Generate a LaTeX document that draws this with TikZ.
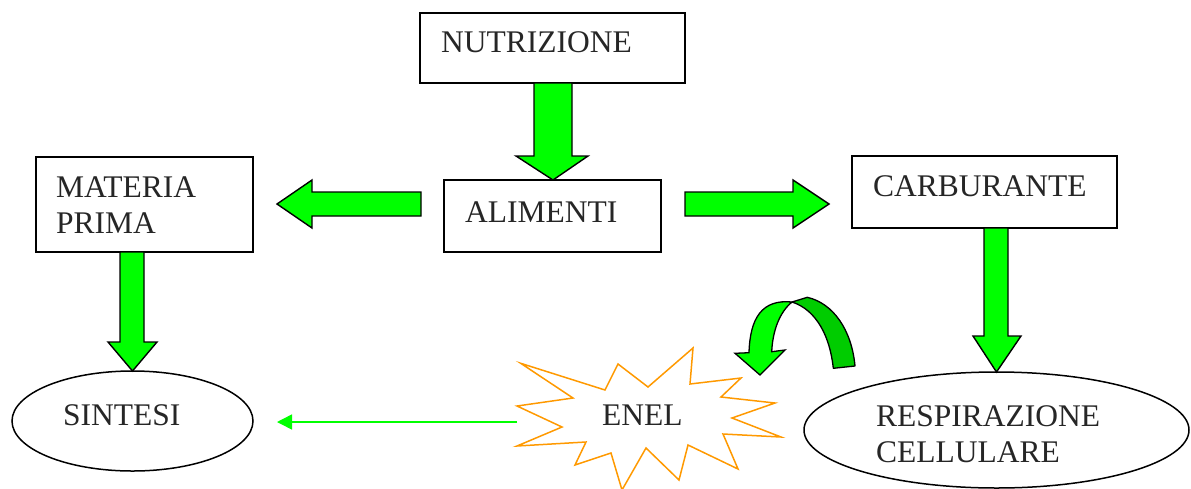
\documentclass[tikz,border=0pt]{standalone}
\usepackage{fontspec}
\setmainfont{Liberation Serif}
\usetikzlibrary{shapes.geometric,arrows.meta}
\definecolor{lgreen}{RGB}{0,255,0}
\definecolor{dgreen}{RGB}{0,204,0}
\definecolor{starorange}{RGB}{255,153,0}
\definecolor{txt}{RGB}{38,38,38}
\begin{document}
\begin{tikzpicture}[x=1pt,y=-1pt,
  box/.style={draw=black,line width=1.5pt,fill=white,inner sep=0pt},
  oval/.style={draw=black,line width=1.5pt,ellipse,inner sep=0pt},
  lbl/.style={anchor=base west,inner sep=0pt,text=txt,font=\fontsize{31.5}{36}\selectfont},
  barrow/.style={draw=black,line width=1.4pt,fill=lgreen,line join=miter},
  thinarrow/.style={draw=lgreen,line width=1.5pt,-{Triangle[length=15pt,width=15pt]}}
]
\useasboundingbox (0,0) rectangle (1191,488);

% boxes
\node[box,minimum width=265pt,minimum height=70pt] (nutr) at (552.5,48) {};
\node[box,minimum width=217pt,minimum height=72pt] (alim) at (552.5,216) {};
\node[box,minimum width=217pt,minimum height=95pt] (mat) at (144.5,204.5) {};
\node[box,minimum width=265pt,minimum height=72pt] (carb) at (984.5,192) {};
\node[oval,minimum width=241pt,minimum height=100pt] (sint) at (132.5,421) {};
\node[oval,minimum width=385pt,minimum height=116pt] (resp) at (996.5,430) {};

% labels
\node[lbl] (tnutr) at (441,52) {NUTRIZIONE};
\node[lbl] (talim) at (465,222) {ALIMENTI};
\node[lbl] (tmat1) at (56,197) {MATERIA};
\node[lbl] (tmat2) at (56,233) {PRIMA};
\node[lbl] (tcarb) at (873,196) {CARBURANTE};
\node[lbl] (tsint) at (63,425) {SINTESI};
\node[lbl] (tresp1) at (876,426) {RESPIRAZIONE};
\node[lbl] (tresp2) at (876,462) {CELLULARE};

% block arrows
% NUTRIZIONE -> ALIMENTI
\draw[barrow] (534,83) -- (572,83) -- (572,156) -- (588,156) -- (553,180) -- (516,156) -- (534,156) -- cycle;
% ALIMENTI -> MATERIA PRIMA
\draw[barrow] (421,192) -- (312,192) -- (312,180) -- (277,204) -- (312,228) -- (312,216) -- (421,216) -- cycle;
% ALIMENTI -> CARBURANTE
\draw[barrow] (685,192) -- (793,192) -- (793,180) -- (829,204) -- (793,228) -- (793,216) -- (685,216) -- cycle;
% MATERIA PRIMA -> SINTESI
\draw[barrow] (120,252) -- (144,252) -- (144,342) -- (157,342) -- (132.5,371) -- (108,342) -- (120,342) -- cycle;
% CARBURANTE -> RESPIRAZIONE
\draw[barrow] (984,228) -- (1008,228) -- (1008,336) -- (1021,336) -- (996.5,372) -- (973,336) -- (984,336) -- cycle;

% ENEL star
\draw[starorange,line width=1.5pt,line join=miter]
  (520.7,363.3) -- (605,390) -- (618,364) -- (648,387) -- (693,348) -- (690,384)
  -- (741,378) -- (721,397) -- (775,403) -- (732,418) -- (781,437) -- (723,434)
  -- (738,469) -- (688,445) -- (679,480) -- (646,448) -- (622,490) -- (611,453)
  -- (575,465) -- (586,442) -- (517,446) -- (562,427) -- (517,406) -- (573,398) -- cycle;
\node[lbl] (tenel) at (602,425) {ENEL};

% thin arrow ENEL -> SINTESI
\coordinate (enelL) at (517,422);
\coordinate (sintR) at (277,422);
\draw[thinarrow] (enelL) -- (sintR);

% curved arrow
\draw[draw=black,line width=1.3pt,fill=dgreen,line join=round]
  (792,302) -- (807.3,297.3)
  .. controls (833.3,303.3) and (851.7,330) .. (855,366)
  -- (833.3,368.3)
  .. controls (830,336.7) and (816.7,310) .. (792,302) -- cycle;
\draw[draw=black,line width=1.3pt,fill=lgreen,line join=miter]
  (792,302) .. controls (762,299) and (750,318) .. (749,352.7)
  -- (735,353.3) -- (760,375) -- (785,350) -- (771.7,351.7)
  .. controls (772.7,330) and (780,311.7) .. (792,302) -- cycle;
\end{tikzpicture}
\end{document}
